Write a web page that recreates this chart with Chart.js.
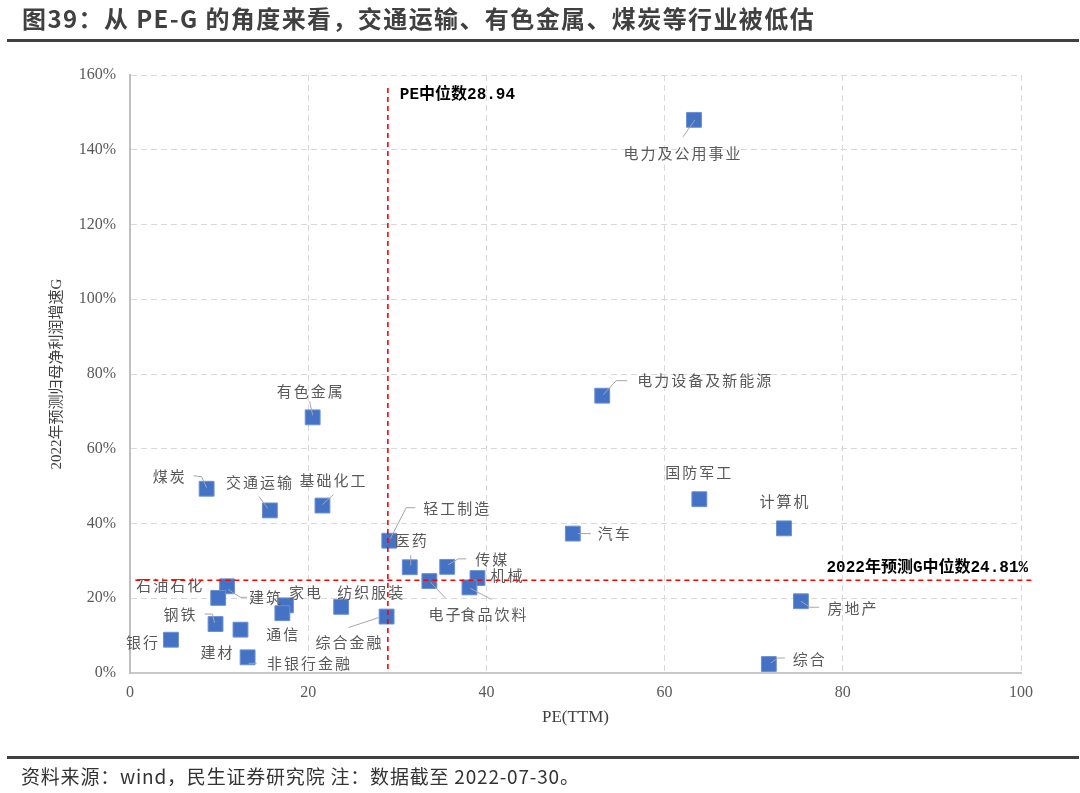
<!DOCTYPE html>
<html>
<head>
<meta charset="utf-8">
<script src="https://cdn.jsdelivr.net/npm/chart.js@4/dist/chart.umd.min.js"></script>
<style>
body{margin:0;width:1080px;height:793px;background:#fff;position:relative;overflow:hidden;font-family:"Noto Sans CJK SC",sans-serif}
#title{position:absolute;left:22px;top:0;line-height:36px;font-size:24px;letter-spacing:1.4px;font-weight:bold;color:#404040;white-space:nowrap}
.rule{position:absolute;left:7px;right:1px;height:3px;background:#404040}
#foot{position:absolute;left:21px;top:763px;line-height:26px;font-size:19px;letter-spacing:0.8px;color:#333;white-space:nowrap}
#c{position:absolute;left:0;top:0}
</style>
</head>
<body>
<canvas id="c" width="1080" height="793"></canvas>
<div id="title">图39：从 PE-G 的角度来看，交通运输、有色金属、煤炭等行业被低估</div>
<div class="rule" style="top:39px"></div>
<div class="rule" style="top:756px"></div>
<div id="foot">资料来源：wind，民生证券研究院 注：数据截至 2022-07-30。</div>
<script>
// industries, PE(TTM) and 2022 forecast profit growth (%)
const industries = ['电力及公用事业','电力设备及新能源','有色金属','煤炭','交通运输','基础化工',
  '国防军工','计算机','轻工制造','汽车','医药','传媒','机械','电子','食品饮料','建筑','石油石化',
  '家电','纺织服装','通信','综合金融','房地产','钢铁','建材','银行','非银行金融','综合'];
const peTTM =   [63.3, 53.0, 20.5, 8.6, 15.7, 21.6, 63.9, 73.4, 29.1, 49.7, 31.4, 35.6, 39.0, 33.6, 38.1, 10.9, 9.9,
  17.5, 23.7, 17.1, 28.8, 75.3, 9.6, 12.4, 4.6, 13.2, 71.7];
const growthG = [148.0, 74.2, 68.4, 49.3, 43.5, 44.8, 46.5, 38.7, 35.4, 37.3, 28.3, 28.4, 25.4, 24.6, 22.9, 23.2, 20.1,
  18.1, 17.7, 16.0, 15.1, 19.2, 13.1, 11.6, 8.9, 4.2, 2.4];
const peMedian = 28.94;
const gMedian = 24.81;
const xTickLabels = ['0','20','40','60','80','100'];
const yTickLabels = ['0%','20%','40%','60%','80%','100%','120%','140%','160%'];

// label placement (pixel offset from the marker) and leader lines
const labelPos = {
  '电力及公用事业':[-12,33], '电力设备及新能源':[102,-15], '有色金属':[-3,-26], '煤炭':[-38,-12],
  '交通运输':[-11,-28], '基础化工':[10,-25], '国防军工':[-1,-27], '计算机':[0,-27], '轻工制造':[67,-32],
  '汽车':[41,0], '医药':[1,-27], '传媒':[44,-8], '机械':[29,-3], '电子':[15,33], '食品饮料':[24,27],
  '建筑':[38,11], '石油石化':[-49,-13], '家电':[19,-13], '纺织服装':[29,-15], '通信':[0,21],
  '综合金融':[-38,26], '房地产':[51,7], '钢铁':[-36,-10], '建材':[-24,23], '银行':[-29,3],
  '非银行金融':[61,6], '综合':[40,-5]
};
const leaders = {
  '电力及公用事业':[[1,0],[-11,17]], '电力设备及新能源':[[25,-15],[14,-15],[1,-1]],
  '有色金属':[[-3,-16],[0,-2]], '煤炭':[[-13,-13],[-5,-12],[0,-1]], '交通运输':[[-11,-14],[-2,-2]],
  '基础化工':[[11,-11],[0,-1]], '轻工制造':[[26,-33],[17,-33],[1,-2]], '医药':[[1,-12],[1,-2]],
  '传媒':[[19,-8],[11,-8],[1,-2]], '电子':[[16,17],[1,1]], '食品饮料':[[22,12],[1,1]],
  '建筑':[[1,3],[13,11],[20,11]], '综合金融':[[-38,11],[-8,1]], '钢铁':[[-11,-10],[-3,-10],[-1,-1]],
  '非银行金融':[[1,6],[9,6]], '汽车':[[5,0],[18,0]], '房地产':[[0,0],[9,6],[18,6]], '综合':[[2,-1],[9,-6],[16,-6]]
};

const overlay = {
  id: 'overlay',
  afterDatasetsDraw(chart) {
    const {ctx, scales: {x, y}} = chart;
    const meta = chart.getDatasetMeta(0);
    ctx.save();
    ctx.strokeStyle = '#a6a6a6';
    ctx.lineWidth = 1;
    meta.data.forEach((pt, i) => {
      const path = leaders[industries[i]];
      if (!path) return;
      ctx.beginPath();
      path.forEach(([dx, dy], k) => k ? ctx.lineTo(pt.x + dx, pt.y + dy) : ctx.moveTo(pt.x + dx, pt.y + dy));
      ctx.stroke();
    });
    ctx.font = '15px "Noto Sans CJK SC"';
    ctx.letterSpacing = '2px';
    ctx.fillStyle = '#595959';
    ctx.textAlign = 'center';
    ctx.textBaseline = 'middle';
    meta.data.forEach((pt, i) => {
      const [dx, dy] = labelPos[industries[i]];
      ctx.fillText(industries[i], pt.x + dx + 1, pt.y + dy);
    });
    ctx.letterSpacing = '0px';

    // median lines
    ctx.strokeStyle = '#ff0000';
    ctx.lineWidth = 1.6;
    ctx.setLineDash([5, 4]);
    const px = x.getPixelForValue(peMedian);
    ctx.beginPath();
    ctx.moveTo(px, y.getPixelForValue(156.5));
    ctx.lineTo(px, y.bottom);
    ctx.stroke();
    const py = y.getPixelForValue(gMedian);
    ctx.beginPath();
    ctx.moveTo(x.getPixelForValue(0.6), py);
    ctx.lineTo(x.getPixelForValue(101.2), py);
    ctx.stroke();
    ctx.setLineDash([]);

    ctx.font = 'bold 16px "Liberation Mono", "Noto Sans CJK SC"';
    ctx.fillStyle = '#000';
    ctx.textAlign = 'left';
    ctx.fillText('PE中位数' + peMedian.toFixed(2), px + 12, y.getPixelForValue(154.6));
    ctx.textAlign = 'right';
    ctx.fillText('2022年预测G中位数' + gMedian.toFixed(2) + '%', x.getPixelForValue(100.8), py - 12);
    ctx.restore();
  }
};

const tickFont = {family: '"Liberation Serif", "Times New Roman", serif', size: 16};

new Chart(document.getElementById('c'), {
  type: 'scatter',
  data: {
    datasets: [{
      data: industries.map((n, i) => ({x: peTTM[i], y: growthG[i]})),
      pointStyle: 'rect',
      pointRadius: 10.5,
      pointHoverRadius: 10.5,
      backgroundColor: '#4472C4',
      borderColor: '#6b8fd3',
      borderWidth: 1
    }]
  },
  options: {
    responsive: false,
    animation: false,
    events: [],
    layout: {padding: {left: 30, right: 59, top: 75, bottom: 0}},
    plugins: {legend: {display: false}, tooltip: {enabled: false}},
    scales: {
      x: {
        type: 'linear', min: 0, max: 100,
        afterFit(s) { s.height = 120; },
        ticks: {stepSize: 20, padding: 10, color: '#595959', font: tickFont,
          callback: (v, i) => xTickLabels[i]},
        grid: {color: '#d9d9d9', lineWidth: 1, drawTicks: false},
        border: {color: '#c8c8c8', width: 2, dash: [6, 4]},
        title: {display: true, text: 'PE(TTM)', color: '#404040',
          font: {family: '"Liberation Serif", serif', size: 17}, padding: {bottom: 65}}
      },
      y: {
        min: 0, max: 160,
        afterFit(s) { s.width = 100; },
        ticks: {stepSize: 20, padding: 14, color: '#595959', font: tickFont,
          callback: (v, i) => yTickLabels[i]},
        grid: {color: '#d9d9d9', lineWidth: 1, drawTicks: false},
        border: {color: '#bfbfbf', width: 2, dash: [6, 4]},
        title: {display: true, text: '2022年预测归母净利润增速G', color: '#404040',
          font: {family: '"Liberation Serif", "Noto Sans CJK SC", serif', size: 15}, padding: {top: 18}}
      }
    }
  },
  plugins: [overlay]
});
</script>
</body>
</html>
